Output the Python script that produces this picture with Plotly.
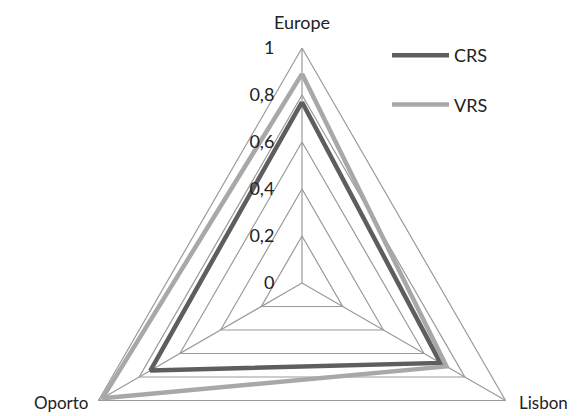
import math
import plotly.graph_objects as go

# ---- data ----
categories = ["Europe", "Lisbon", "Oporto"]
crs_values = [0.77, 0.68, 0.745]
vrs_values = [0.89, 0.71, 0.98]
tick_values = [0, 0.2, 0.4, 0.6, 0.8, 1.0]
tick_labels = ["0", "0,2", "0,4", "0,6", "0,8", "1"]
series_names = ["CRS", "VRS"]

# ---- style ----
FONT = "Lato"
TEXT_COLOR = "#222222"
GRID_COLOR = "#9a9a9a"
CRS_COLOR = "#5e5e5e"
VRS_COLOR = "#a8a8a8"

n = len(categories)
# radar angles: first category straight up, then clockwise
angles = [math.radians(90 - 360 * i / n) for i in range(n)]


def to_xy(values):
    xs = [v * math.cos(a) for v, a in zip(values, angles)]
    ys = [v * math.sin(a) for v, a in zip(values, angles)]
    return xs + [xs[0]], ys + [ys[0]]


fig = go.Figure()

# grid polygons
gx, gy = [], []
for t in tick_values[1:]:
    xs, ys = to_xy([t] * n)
    gx += xs + [None]
    gy += ys + [None]
# spokes
rmax = tick_values[-1]
for a in angles:
    gx += [0, rmax * math.cos(a), None]
    gy += [0, rmax * math.sin(a), None]
fig.add_trace(go.Scatter(x=gx, y=gy, mode="lines",
                         line=dict(color=GRID_COLOR, width=1.2),
                         hoverinfo="skip", showlegend=False))

for name, vals, col in [(series_names[0], crs_values, CRS_COLOR),
                        (series_names[1], vrs_values, VRS_COLOR)]:
    xs, ys = to_xy(vals)
    fig.add_trace(go.Scatter(x=xs, y=ys, mode="lines", name=name,
                             legendgroup=name,
                             line=dict(color=col, width=4.5)))

# category labels
lx, ly = to_xy([rmax] * n)
label_style = [
    dict(xanchor="center", yanchor="middle", xshift=0, yshift=26, size=18),
    dict(xanchor="left", yanchor="bottom", xshift=12, yshift=-13, size=17),
    dict(xanchor="right", yanchor="bottom", xshift=-8, yshift=-13, size=17),
]
for i, cat in enumerate(categories):
    st = dict(label_style[i])
    size = st.pop("size")
    fig.add_annotation(x=lx[i], y=ly[i], text=cat, showarrow=False,
                       borderpad=0,
                       font=dict(family=FONT, size=size, color=TEXT_COLOR),
                       **st)

PX = 235.0
CX, CY = 302.0, 283.0
W, H = 586, 416

fig.update_layout(
    width=W, height=H,
    margin=dict(l=0, r=0, t=0, b=0),
    paper_bgcolor="white", plot_bgcolor="white",
    separators=", ",
    font=dict(family=FONT, size=18, color=TEXT_COLOR),
    xaxis=dict(range=[-CX / PX, (W - CX) / PX], visible=False, fixedrange=True),
    yaxis=dict(range=[(CY - H) / PX, CY / PX], showgrid=False, zeroline=False,
               showline=False, anchor="free", position=CX / W,
               tickvals=tick_values, ticktext=tick_labels,
               ticks="outside", ticklen=24, tickcolor="rgba(0,0,0,0)",
               tickfont=dict(family=FONT, size=18, color=TEXT_COLOR),
               fixedrange=True),
    legend=dict(x=387 / W, y=1 - 37 / H, xanchor="left", yanchor="top",
                traceorder="grouped", tracegroupgap=23, itemwidth=57,
                font=dict(family=FONT, size=18, color=TEXT_COLOR),
                bgcolor="rgba(0,0,0,0)"),
    showlegend=True,
)

fig.write_html("out.html")
